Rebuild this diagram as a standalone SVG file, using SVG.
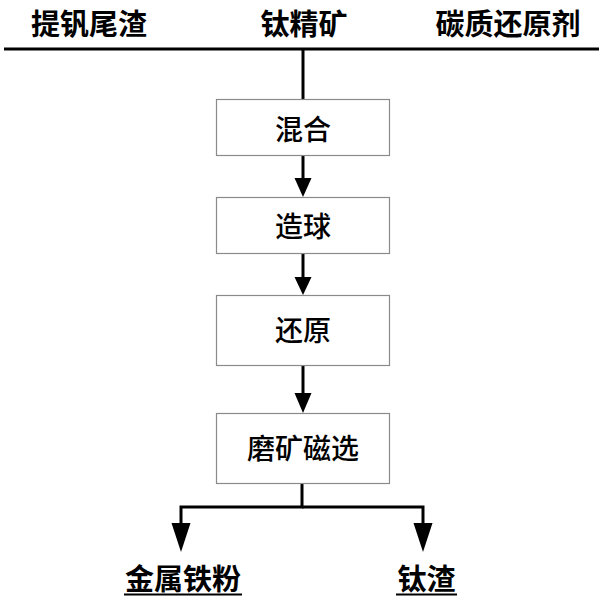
<svg xmlns="http://www.w3.org/2000/svg" width="599" height="601" viewBox="0 0 599 601">
<style>
.box{fill:#fff;stroke:#8a8a8a;stroke-width:1.2}
.lbl{font-family:"Noto Sans CJK SC","Noto Sans CJK JP",sans-serif;font-size:28px;font-weight:500;fill:#000;text-anchor:middle;dominant-baseline:central}
.top{font-family:"Noto Sans CJK SC","Noto Sans CJK JP",sans-serif;font-size:29px;font-weight:bold;fill:#000;text-anchor:middle}
.ln{stroke:#000;stroke-width:3;fill:none}
.ah{fill:#000}
</style>
<rect width="599" height="601" fill="#fff"/>
<g id="inputs">
<text class="top" x="89" y="35">提钒尾渣</text>
<text class="top" x="304" y="35">钛精矿</text>
<text class="top" x="508" y="35">碳质还原剂</text>
</g>
<g id="connectors">
<line class="ln" x1="4" y1="49" x2="599" y2="49"/>
<line class="ln" x1="303" y1="49" x2="303" y2="99"/>
<line class="ln" x1="303" y1="156" x2="303" y2="180"/>
<polygon class="ah" points="294.5,178 311.5,178 303,197"/>
<line class="ln" x1="303" y1="253" x2="303" y2="279"/>
<polygon class="ah" points="294.5,277 311.5,277 303,295"/>
<line class="ln" x1="303" y1="365" x2="303" y2="395"/>
<polygon class="ah" points="294.5,393 311.5,393 303,413"/>
<polyline class="ln" points="302,483 302,507 181,507 181,526"/>
<polyline class="ln" points="302,507 423,507 423,526"/>
<polygon class="ah" points="171.5,523 190.5,523 181,552"/>
<polygon class="ah" points="413.5,523 432.5,523 423,552"/>
</g>
<g id="mix">
<rect class="box" x="216.5" y="99.5" width="173" height="56"/>
<text class="lbl" x="303" y="127.5">混合</text>
</g>
<g id="pellet">
<rect class="box" x="216.5" y="197.5" width="173" height="56"/>
<text class="lbl" x="303" y="225">造球</text>
</g>
<g id="reduce">
<rect class="box" x="216.5" y="295.5" width="173" height="70"/>
<text class="lbl" x="303" y="329">还原</text>
</g>
<g id="grind">
<rect class="box" x="216.5" y="413.5" width="173" height="70"/>
<text class="lbl" x="303" y="447">磨矿磁选</text>
</g>
<g id="iron">
<text class="top" x="183" y="590">金属铁粉</text>
<line x1="124" y1="594.5" x2="242" y2="594.5" stroke="#000" stroke-width="2"/>
</g>
<g id="slag">
<text class="top" x="426.5" y="590">钛渣</text>
<line x1="396" y1="594.5" x2="457" y2="594.5" stroke="#000" stroke-width="2"/>
</g>
</svg>
